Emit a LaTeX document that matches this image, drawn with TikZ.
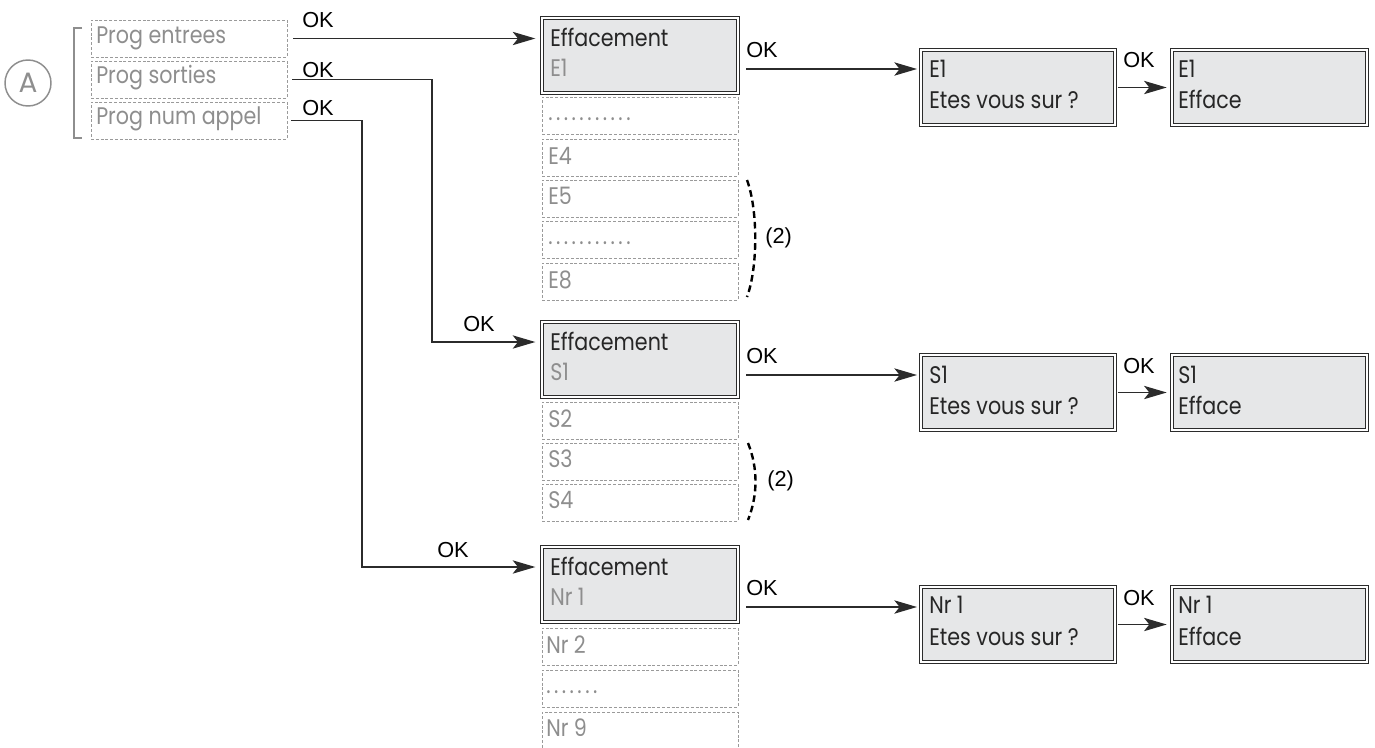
\documentclass[tikz,border=0pt]{standalone}
\usepackage{fontspec}
\setmainfont{Liberation Sans}
\newfontfamily\boxfont[FakeStretch=0.86]{Poppins}
\newfontfamily\circfont{Poppins}
\usetikzlibrary{arrows.meta,calc}
\definecolor{txtgray}{HTML}{8E8E8E}
\definecolor{dashgray}{HTML}{9A9A9A}
\definecolor{fillgray}{HTML}{E6E7E8}
\definecolor{linedark}{HTML}{2B2B2B}
\newcommand{\dotrow}[1]{\foreach \i in {1,...,#1}{.\hspace{2.6pt}}}
\begin{document}
\begin{tikzpicture}[x=0.75pt,y=-0.75pt,
  dbox/.style={draw=dashgray, line width=0.6pt, dash pattern=on 2.2pt off 1.4pt,
    minimum width={196*0.75pt}, minimum height={37*0.75pt}, anchor=north west,
    inner sep=0pt, outer sep=0pt},
  ebox/.style={draw=linedark, line width=0.75pt, double=white, double distance=1.4pt,
    fill=fillgray, minimum width={196*0.75pt}, minimum height={75*0.75pt},
    anchor=north west, inner sep=0pt, outer sep=0pt},
  rbox/.style={ebox, minimum width={194*0.75pt}},
  bt/.style={font=\boxfont\fontsize{18}{18}\selectfont, anchor=base west, inner sep=0pt, text=black!85},
  gt/.style={bt, text=txtgray},
  ok/.style={font=\fontsize{16.3}{16.3}\selectfont, anchor=base west, inner sep=0pt},
  arr/.style={draw=linedark, line width=1pt, -{Stealth[length=17pt,width=10pt,inset=4pt]}},
  brace2/.style={draw=black, line width=1.8pt, dash pattern=on 5pt off 3pt},
]
\useasboundingbox (0,0) rectangle (1375,747);
\clip (0,0) rectangle (1375,747);

% circle A and bracket
\node[draw=txtgray, circle, line width=1.1pt, minimum size={46*0.75pt}, inner sep=0pt,
  text=txtgray, font=\circfont\fontsize{21}{21}\selectfont] (A) at (28,83) {A};
\draw[txtgray, line width=1.8pt] (82,28) -- (74,28) -- (74,138) -- (82,138);

% left menu
\node[dbox] (pe) at (91,20) {};
\node[dbox] (ps) at (91,61) {};
\node[dbox] (pn) at (91,102) {};
\node[gt] (tpe) at (96,43) {Prog entrees};
\node[gt] (tps) at (96,83) {Prog sorties};
\node[gt] (tpn) at (96,124) {Prog num appel};
\node[ok] (ok1) at (302,27) {OK};
\node[ok] (ok2) at (302,77) {OK};
\node[ok] (ok3) at (302,115) {OK};

% ---- E column
\node[ebox] (effE) at (542,18) {};
\node[bt] (effEt) at (550,46) {Effacement};
\node[gt] (effEs) at (550,76) {E1};
\node[dbox] (dE1) at (542,97) {};
\node[dbox] (dE2) at (542,139) {};
\node[dbox] (dE3) at (542,180) {};
\node[dbox] (dE4) at (542,221) {};
\node[dbox] (dE5) at (542,263) {};
\node[gt] (tdE1) at (548,120) {\dotrow{11}};
\node[gt] (tdE2) at (548,164) {E4};
\node[gt] (tdE3) at (548,204) {E5};
\node[gt] (tdE4) at (548,244) {\dotrow{11}};
\node[gt] (tdE5) at (548,288) {E8};
\draw[brace2] (747,180) .. controls (758,210) and (758,267) .. (747,297);
\node[anchor=west, inner sep=0pt, font=\fontsize{16.3}{16.3}\selectfont] (twoE) at (765,238) {(2)};

% ---- S column
\node[ebox] (effS) at (542,322) {};
\node[bt] (effSt) at (550,350) {Effacement};
\node[gt] (effSs) at (550,380) {S1};
\node[dbox] (dS1) at (542,402) {};
\node[dbox] (dS2) at (542,443) {};
\node[dbox] (dS3) at (542,484) {};
\node[gt] (tdS1) at (548,427) {S2};
\node[gt] (tdS2) at (548,467) {S3};
\node[gt] (tdS3) at (548,508) {S4};
\draw[brace2] (748,443) .. controls (758,468) and (758,495) .. (748,520);
\node[anchor=west, inner sep=0pt, font=\fontsize{16.3}{16.3}\selectfont] (twoS) at (767,481) {(2)};

% ---- Nr column
\node[ebox] (effN) at (542,547) {};
\node[bt] (effNt) at (550,575) {Effacement};
\node[gt] (effNs) at (550,605) {Nr 1};
\node[dbox] (dN1) at (542,628) {};
\node[dbox] (dN2) at (542,670) {};
\node[dbox, minimum height={60*0.75pt}] (dN3) at (542,712) {};
\node[gt] (tdN1) at (546,653) {Nr 2};
\node[gt] (tdN2) at (546,693) {\dotrow{7}};
\node[gt] (tdN3) at (546,736) {Nr 9};

% ---- right boxes
\node[rbox] (etesE) at (921,50) {};
\node[bt] at (929,77) {E1};
\node[bt] at (929,108) {Etes vous sur ?};
\node[rbox, minimum width={195*0.75pt}] (effaceE) at (1172,50) {};
\node[bt] at (1178,77) {E1};
\node[bt] at (1178,108) {Efface};

\node[rbox] (etesS) at (921,355) {};
\node[bt] at (929,383) {S1};
\node[bt] at (929,414) {Etes vous sur ?};
\node[rbox, minimum width={195*0.75pt}] (effaceS) at (1172,355) {};
\node[bt] at (1178,383) {S1};
\node[bt] at (1178,414) {Efface};

\node[rbox] (etesN) at (921,587) {};
\node[bt] at (929,613) {Nr 1};
\node[bt] at (929,645) {Etes vous sur ?};
\node[rbox, minimum width={195*0.75pt}] (effaceN) at (1172,587) {};
\node[bt] at (1178,613) {Nr 1};
\node[bt] at (1178,645) {Efface};

% ---- OK labels
\node[ok] at (463,331) {OK};
\node[ok] at (437,557) {OK};
\node[ok] at (746,57) {OK};
\node[ok] at (746,363) {OK};
\node[ok] at (746,595) {OK};
\node[ok] at (1123,67) {OK};
\node[ok] at (1123,373) {OK};
\node[ok] at (1123,605) {OK};

% ---- connectors
\draw[arr, shorten >=5pt] ([xshift=4.5pt]pe.east) -- (pe.east -| effE.west);
\draw[arr, shorten >=5pt] ([xshift=4pt]ps.east) -| ($(effS.north west)+(-110,20)$) -- ($(effS.north west)+(0,20)$);
\draw[arr, shorten >=5pt] ([xshift=3pt]pn.east) -| ($(effN.north west)+(-180,20)$) -- ($(effN.north west)+(0,20)$);

\coordinate (aE) at ($(effE.north east)+(8,51)$);
\coordinate (aS) at ($(effS.north east)+(8,53)$);
\coordinate (aN) at ($(effN.north east)+(8,60)$);
\draw[arr, shorten >=3pt] (aE) -- (aE -| etesE.west);
\draw[arr, shorten >=3pt] (aS) -- (aS -| etesS.west);
\draw[arr, shorten >=3pt] (aN) -- (aN -| etesN.west);

\draw[arr, shorten <=2pt, shorten >=4pt] (etesE.east) -- (effaceE.west);
\draw[arr, shorten <=2pt, shorten >=4pt] (etesS.east) -- (effaceS.west);
\draw[arr, shorten <=2pt, shorten >=4pt] (etesN.east) -- (effaceN.west);
\end{tikzpicture}
\end{document}
